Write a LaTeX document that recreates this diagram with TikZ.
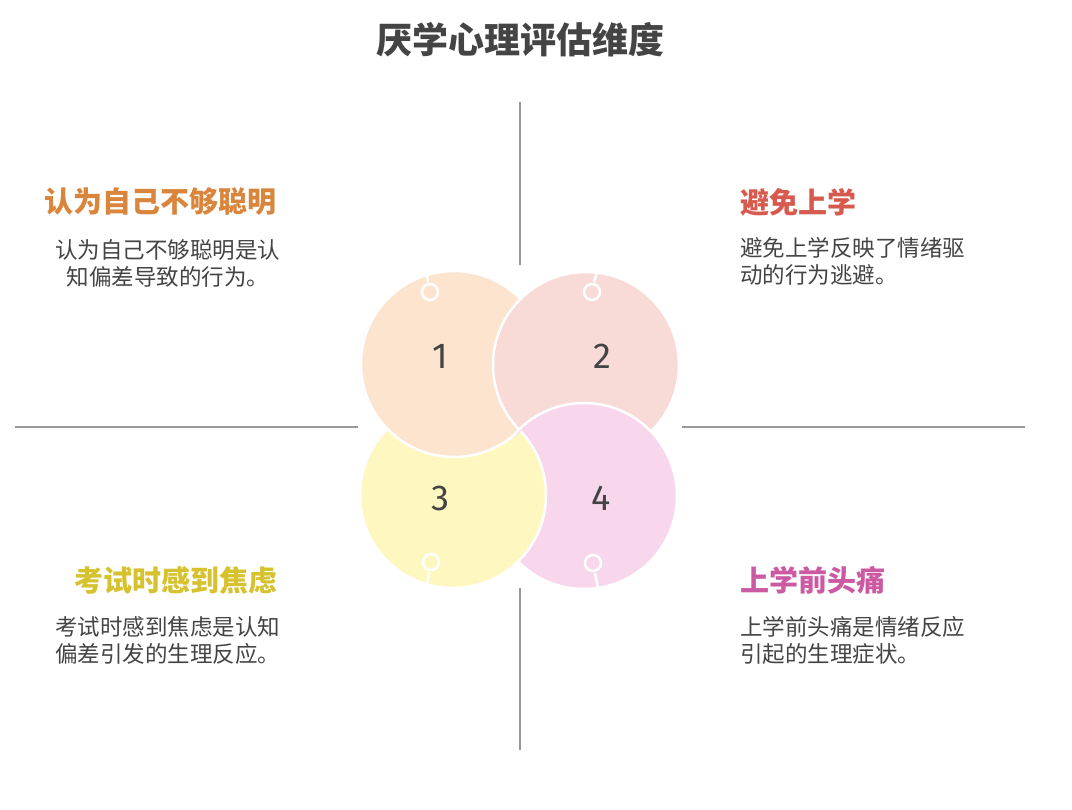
\documentclass[tikz,border=0pt]{standalone}
\usepackage{fontspec}
\setmainfont{Noto Sans CJK SC}
\newfontfamily\numfont{Fira Sans}
\definecolor{cA}{HTML}{FCE4CF}
\definecolor{cB}{HTML}{F8DAD7}
\definecolor{cC}{HTML}{FEF7C0}
\definecolor{cD}{HTML}{F8D7EC}
\definecolor{tA}{HTML}{D9853B}
\definecolor{tB}{HTML}{D65A4E}
\definecolor{tC}{HTML}{D6C22E}
\definecolor{tD}{HTML}{CC5AA2}
\definecolor{txt}{HTML}{444444}
\definecolor{axis}{HTML}{999999}
\tikzset{
  circ/.style={draw=white,line width=2.5pt},
  knob/.style={draw=white,line width=2.5pt},
  axisline/.style={draw=axis,line width=2.5pt},
  head/.style={font=\fontsize{29}{32}\selectfont\bfseries,inner sep=0pt},
  body/.style={font=\fontsize{22.5}{27}\selectfont,text=txt,inner sep=0pt},
  num/.style={font=\numfont\fontsize{36}{36}\selectfont,text=txt}
}
\begin{document}
\begin{tikzpicture}[x=1pt,y=-1pt]
\useasboundingbox (0,0) rectangle (1072,810);
\node[font=\fontsize{36}{40}\selectfont\bfseries,text=txt] (title) at (520,40) {厌学心理评估维度};
% axes
\coordinate (v1) at (520,102); \coordinate (v2) at (520,265);
\coordinate (v3) at (520,588); \coordinate (v4) at (520,750);
\coordinate (h1) at (15,427); \coordinate (h2) at (358,427);
\coordinate (h3) at (682,427); \coordinate (h4) at (1025,427);
\draw[axisline] (v1)--(v2); \draw[axisline] (v3)--(v4);
\draw[axisline] (h1)--(h2); \draw[axisline] (h3)--(h4);
% circles
\def\R{93}
\coordinate (c1) at (454,364);
\coordinate (c2) at (586,365);
\coordinate (c3) at (453,495);
\coordinate (c4) at (584,496);
\fill[cB,circ] (c2) circle (\R);
\fill[cD,circ] (c4) circle (\R);
\fill[cC,circ] (c3) circle (\R);
\fill[cA,circ] (c1) circle (\R);
\begin{scope}
\clip (c1) circle (\R+1.5);
\fill[cB,circ] (c2) circle (\R);
\fill[cD,circ] (c4) circle (\R);
\end{scope}
% knobs
\draw[knob] (430,292) circle (8); \draw[knob] (428,282)--(426,272);
\draw[knob] (592,292) circle (8); \draw[knob] (594,282)--(597,272);
\draw[knob] (431,562) circle (8); \draw[knob] (429,572)--(427,586);
\draw[knob] (593,563) circle (8); \draw[knob] (595,573)--(598,588);
\node[num] (n1) at (440,356) {1};
\node[num] (n2) at (602,356) {2};
\node[num] (n3) at (440,498) {3};
\node[num] (n4) at (601,498) {4};
% texts
\node[head,text=tA] (hA) at (161,202) {认为自己不够聪明};
\node[body,align=center] (bA) at (168,263) {认为自己不够聪明是认\\知偏差导致的行为。};
\node[head,text=tB,anchor=west] (hB) at (740,202) {避免上学};
\node[body,align=left,anchor=north west] (bB) at (740,237) {避免上学反映了情绪驱\\动的行为逃避。};
\node[head,text=tC] (hC) at (176,580) {考试时感到焦虑};
\node[body,align=left,anchor=north west] (bC) at (55,616) {考试时感到焦虑是认知\\偏差引发的生理反应。};
\node[head,text=tD,anchor=west] (hD) at (740,580) {上学前头痛};
\node[body,align=left,anchor=north west] (bD) at (740,616) {上学前头痛是情绪反应\\引起的生理症状。};
\end{tikzpicture}
\end{document}
